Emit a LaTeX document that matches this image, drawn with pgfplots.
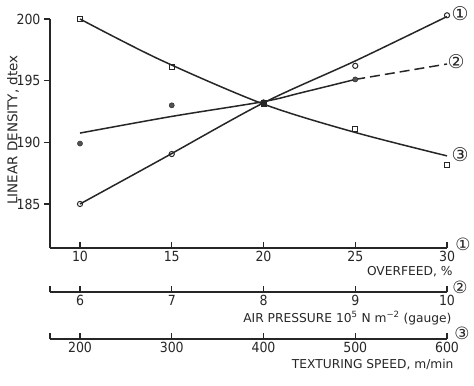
\documentclass[border=0pt]{standalone}
\usepackage{fontspec}
\setmainfont{DejaVu Sans}
\newfontfamily\cond{DejaVu Sans Condensed}
\newfontfamily\sym{DejaVu Sans}
\usepackage{pgfplots}
\pgfplotsset{compat=1.18}
\definecolor{ink}{gray}{0.15}
\pgfplotsset{
  ticklab/.style={tick label style={font=\fontsize{14}{16}\cond, text=ink}},
}
\begin{document}
\begin{tikzpicture}[font=\fontsize{12.3}{14}\selectfont]
\path[use as bounding box] (-50bp,-138bp) rectangle (424bp,248bp);
% main axis
\begin{axis}[
  at={(0,0)}, anchor=south west,
  scale only axis, width=397bp, height=229bp,
  xmin=8.365, xmax=30, ymin=181.43, ymax=200,
  axis x line*=bottom, axis y line*=left,
  axis line style={ink, line width=1.4bp},
  every tick/.style={ink, line width=1.3bp},
  clip=false,
  xtick={10,15,20,25,30}, ytick={185,190,195,200},
  xtick align=inside, ytick align=outside,
  major tick length=6bp,
  /pgf/number format/assume math mode=true,
  ticklab,
  ylabel={LINEAR DENSITY, dtex},
  ylabel style={at={(axis description cs:0,0.515)}, anchor=center, yshift=37bp, text=ink, font=\fontsize{13.5}{15}\selectfont},
]
% curve 1 (open circles)
\addplot[ink, line width=1.5bp, smooth] coordinates {(10,185.0) (14.36,188.56) (20,193.2) (25,196.6) (30,200.2)};
\addplot[only marks, mark=o, mark size=2.6bp, mark options={ink, line width=1bp, fill=white}] coordinates {(10,185.0) (15,189.05) (20,193.2) (25,196.2) (30,200.3)};
% curve 2 (filled circles)
\addplot[ink, line width=1.5bp, smooth] coordinates {(10,190.75) (15,192.1) (20,193.3) (22,194.0) (25,195.1)};
\addplot[ink, line width=1.5bp, dash pattern=on 10bp off 5bp] coordinates {(25,195.1) (30,196.35)};
\addplot[only marks, mark=*, mark size=2.6bp, mark options={ink, fill=ink!80}] coordinates {(10,189.9) (15,193.0) (20,193.25) (25,195.1)};
% curve 3 (open squares)
\addplot[ink, line width=1.5bp, smooth] coordinates {(10,200.0) (14.36,196.7) (20,193.1) (25,190.8) (30,188.9)};
\addplot[only marks, mark=square, mark size=2.5bp, mark options={ink, line width=1bp, fill=white}] coordinates {(10,200.0) (15,196.1) (20,193.1) (25,191.1) (30,188.2)};
\addplot[only marks, mark=square*, mark size=2.8bp, mark options={ink, fill=ink}] coordinates {(20,193.15)};
% circled numbers
\node[anchor=center, text=ink, font=\fontsize{19}{19}\sym] at (axis cs:30,200.3) [xshift=13bp, yshift=2bp] {①};
\node[anchor=center, text=ink, font=\fontsize{19}{19}\sym] at (axis cs:30,196.35) [xshift=9bp, yshift=2bp] {②};
\node[anchor=center, text=ink, font=\fontsize{19}{19}\sym] at (axis cs:30,188.9) [xshift=13bp, yshift=1bp] {③};
\node[anchor=center, text=ink, font=\fontsize{17}{17}\sym] at (rel axis cs:1,0) [xshift=16bp, yshift=4bp] {①};
\node[anchor=east, text=ink] at (rel axis cs:1,0) [xshift=9bp, yshift=-24bp] {OVERFEED, \%};
\end{axis}
% air pressure axis
\begin{axis}[
  at={(0,-44bp)}, anchor=south west,
  scale only axis, width=397bp, height=2bp,
  xmin=5.673, xmax=10, ymin=0, ymax=1,
  axis x line*=bottom, axis y line=none,
  axis line style={ink, line width=1.4bp},
  every tick/.style={ink, line width=1.3bp},
  clip=false,
  xtick={6,7,8,9,10}, extra x ticks={5.673}, extra x tick labels={},
  xtick align=inside, major tick length=6bp,
  /pgf/number format/assume math mode=true,
  ticklab,
]
\node[anchor=center, text=ink, font=\fontsize{17}{17}\sym] at (rel axis cs:1,0) [xshift=13bp, yshift=5bp] {②};
\node[anchor=east, text=ink] at (rel axis cs:1,0) [xshift=8bp, yshift=-26bp] {AIR PRESSURE 10\textsuperscript{5} N m\textsuperscript{−2} (gauge)};
\end{axis}
% texturing speed axis
\begin{axis}[
  at={(0,-91bp)}, anchor=south west,
  scale only axis, width=397bp, height=2bp,
  xmin=167.3, xmax=600, ymin=0, ymax=1,
  axis x line*=bottom, axis y line=none,
  axis line style={ink, line width=1.4bp},
  every tick/.style={ink, line width=1.3bp},
  clip=false,
  xtick={200,300,400,500,600}, extra x ticks={167.3}, extra x tick labels={},
  xtick align=inside, major tick length=6bp,
  /pgf/number format/assume math mode=true,
  ticklab,
]
\node[anchor=center, text=ink, font=\fontsize{17}{17}\sym] at (rel axis cs:1,0) [xshift=15bp, yshift=6bp] {③};
\node[anchor=east, text=ink] at (rel axis cs:1,0) [xshift=10bp, yshift=-26bp] {TEXTURING SPEED, m/min};
\end{axis}
\end{tikzpicture}
\end{document}
